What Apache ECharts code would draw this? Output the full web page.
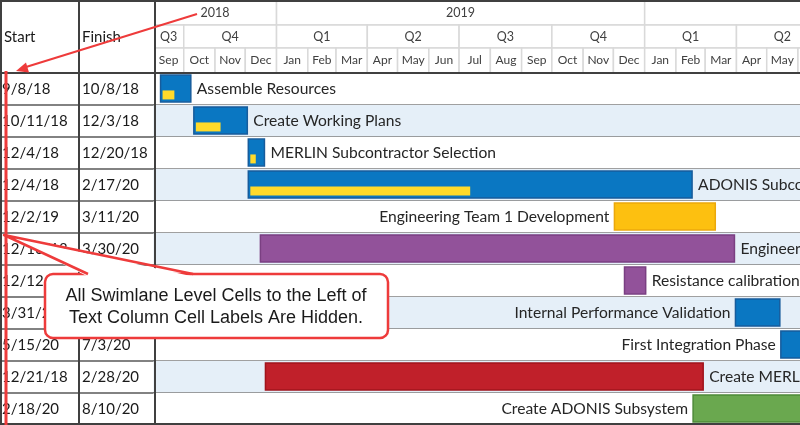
<!DOCTYPE html>
<html>
<head>
<meta charset="utf-8">
<style>html,body{margin:0;padding:0;background:#fff}#main{width:800px;height:425px}</style>
<script src="https://cdn.jsdelivr.net/npm/echarts/dist/echarts.min.js"></script>
</head>
<body>
<div id="main"></div>
<script>
// task table
var taskNames = ['Assemble Resources', 'Create Working Plans', 'MERLIN Subcontractor Selection',
  'ADONIS Subcontractor Selection', 'Engineering Team 1 Development', 'Engineering Team 2 Development',
  'Resistance calibration testing', 'Internal Performance Validation', 'First Integration Phase',
  'Create MERLIN Subsystem', 'Create ADONIS Subsystem'];
var startDates = ['9/8/18', '10/11/18', '12/4/18', '12/4/18', '12/2/19', '12/16/18',
  '12/12/19', '3/31/20', '5/15/20', '12/21/18', '2/18/20'];
var finishDates = ['10/8/18', '12/3/18', '12/20/18', '2/17/20', '3/11/20', '3/30/20',
  '1/2/20', '5/14/20', '7/3/20', '2/28/20', '8/10/20'];
var percentDone = [0.45, 0.5, 0.45, 0.5, 0, 0, 0, 0, 0, 0, 0];

// timescale header
var yearLabels = ['2018', '2019', '2020'];
var quarterLabels = ['Q3', 'Q4', 'Q1', 'Q2', 'Q3', 'Q4', 'Q1', 'Q2'];
var monthLabels = ['Sep', 'Oct', 'Nov', 'Dec', 'Jan', 'Feb', 'Mar', 'Apr', 'May', 'Jun',
  'Jul', 'Aug', 'Sep', 'Oct', 'Nov', 'Dec', 'Jan', 'Feb', 'Mar', 'Apr', 'May', 'Jun'];

// styles
var barColors = ['#0A77C2', '#0A77C2', '#0A77C2', '#0A77C2', '#FDC010', '#92529A',
  '#92529A', '#0A77C2', '#0A77C2', '#C0202A', '#6AA84F'];
var barBorders = ['#175C9C', '#175C9C', '#175C9C', '#175C9C', '#EBA80C', '#7A3F82',
  '#7A3F82', '#175C9C', '#175C9C', '#A0141C', '#4E8A38'];
var labelSide = ['right', 'right', 'right', 'right', 'left', 'right',
  'right', 'left', 'left', 'right', 'left'];

function parseDate(s) {
  var p = s.split('/');
  return Date.UTC(2000 + (+p[2]), +p[0] - 1, +p[1]);
}
var axisMin = Date.UTC(2018, 8, 1);
var axisMax = Date.UTC(2020, 5, 3);

var myChart = echarts.init(document.getElementById('main'));
var FONT = 'Lato, "Noto Sans", sans-serif';
var RED = '#EE3B3B';
var DARK = '#404040';

// header cells: [start, end, level, label]
var headerData = [];
yearLabels.forEach(function (y, i) {
  var s = i === 0 ? axisMin : Date.UTC(+y, 0, 1);
  headerData.push([s, Date.UTC(+y + 1, 0, 1), 0, y]);
});
quarterLabels.forEach(function (q, i) {
  var s = Date.UTC(2018, 6 + i * 3, 1);
  headerData.push([Math.max(s, axisMin), Date.UTC(2018, 9 + i * 3, 1), 1, q]);
});
monthLabels.forEach(function (m, i) {
  headerData.push([Date.UTC(2018, 8 + i, 1), Date.UTC(2018, 9 + i, 1), 2, m]);
});

var rowData = taskNames.map(function (n, i) { return [axisMin, i]; });
var barData = taskNames.map(function (n, i) {
  return [i, parseDate(startDates[i]), parseDate(finishDates[i]), percentDone[i]];
});

var levelTop = [1, 25, 48];
var levelBottom = [25, 48, 73];

function renderHeader(params, api) {
  var cs = params.coordSys;
  var x0 = api.coord([api.value(0), 0])[0];
  var x1 = api.coord([api.value(1), 0])[0];
  var lv = api.value(2);
  var top = levelTop[lv], bot = levelBottom[lv];
  var cx = (Math.max(x0, cs.x) + x1) / 2;
  return {
    type: 'group',
    children: [{
      type: 'rect',
      shape: { x: x0, y: top, width: x1 - x0, height: bot - top },
      style: { fill: '#fff', stroke: '#D9D9D9', lineWidth: 1.5 }
    }, {
      type: 'text',
      style: {
        text: headerData[params.dataIndex][3], x: cx, y: (top + bot) / 2,
        textAlign: 'center', verticalAlign: 'middle',
        font: (lv === 2 ? '12px ' : '12.5px ') + FONT, fill: DARK
      }
    }]
  };
}

function renderRow(params, api) {
  var cs = params.coordSys;
  var i = api.value(1);
  var cy = api.coord([api.value(0), i])[1];
  var h = api.size([0, 1])[1];
  var top = cy - h / 2, bot = cy + h / 2;
  return {
    type: 'group',
    children: [{
      type: 'rect',
      shape: { x: cs.x, y: top, width: cs.width, height: h },
      style: { fill: i % 2 === 1 ? '#E5EFF8' : '#fff' }
    }, {
      type: 'line',
      shape: { x1: cs.x, y1: bot, x2: cs.x + cs.width, y2: bot },
      style: { stroke: '#808080', lineWidth: 1.5 }
    }, {
      type: 'line',
      shape: { x1: 0, y1: bot, x2: 155, y2: bot },
      style: { stroke: '#595959', lineWidth: 1.5 }
    }, {
      type: 'text',
      style: { text: startDates[i], x: 2, y: cy, verticalAlign: 'middle', font: '15px ' + FONT, fill: '#1a1a1a' }
    }, {
      type: 'text',
      style: { text: finishDates[i], x: 82, y: cy, verticalAlign: 'middle', font: '15px ' + FONT, fill: '#1a1a1a' }
    }]
  };
}

function renderBar(params, api) {
  var i = api.value(0);
  var p0 = api.coord([api.value(1), i]);
  var p1 = api.coord([api.value(2), i]);
  var h = api.size([0, 1])[1];
  var bh = h * 0.84;
  var top = p0[1] - bh / 2 - 0.5;
  var w = p1[0] - p0[0];
  var children = [{
    type: 'rect',
    shape: { x: p0[0], y: top, width: w, height: bh },
    style: { fill: barColors[i], stroke: barBorders[i], lineWidth: 1.5 }
  }];
  var pd = api.value(3);
  if (pd > 0) {
    children.push({
      type: 'rect',
      shape: { x: p0[0] + 2, y: top + bh - 11.5, width: (w - 4) * pd, height: 9 },
      style: { fill: '#FFDA2A' }
    });
  }
  var right = labelSide[i] === 'right';
  children.push({
    type: 'text',
    style: {
      text: taskNames[i], x: right ? p1[0] + 6 : p0[0] - 5, y: p0[1],
      textAlign: right ? 'left' : 'right', verticalAlign: 'middle',
      font: '15.6px ' + FONT, fill: '#262626'
    }
  });
  return { type: 'group', children: children };
}

var option = {
  animation: false,
  backgroundColor: '#fff',
  grid: [
    { left: 153.5, right: 0, top: 73, height: 352 },
    { left: 153.5, right: 0, top: 0, height: 73 }
  ],
  xAxis: [
    { type: 'time', gridIndex: 0, min: axisMin, max: axisMax, show: false },
    { type: 'time', gridIndex: 1, min: axisMin, max: axisMax, show: false }
  ],
  yAxis: [
    { type: 'category', gridIndex: 0, inverse: true, data: taskNames.map(function (n, i) { return i; }), show: false },
    { type: 'value', gridIndex: 1, min: 0, max: 1, show: false }
  ],
  series: [{
    type: 'custom', xAxisIndex: 1, yAxisIndex: 1, data: headerData,
    encode: { x: [0, 1] }, renderItem: renderHeader, clip: true, z: 1
  }, {
    type: 'custom', xAxisIndex: 0, yAxisIndex: 0, data: rowData,
    encode: { x: 0, y: 1 }, renderItem: renderRow, z: 1
  }, {
    type: 'custom', xAxisIndex: 0, yAxisIndex: 0, data: barData,
    encode: { x: [1, 2], y: 0 }, renderItem: renderBar, z: 3
  }],
  graphic: [
    { type: 'rect', z: 40, shape: { x: 0, y: 0, width: 155, height: 73 }, style: { fill: '#fff' } },
    { type: 'text', z: 50, style: { text: 'Start', x: 4, y: 37, verticalAlign: 'middle', font: '15px ' + FONT, fill: '#1a1a1a' } },
    { type: 'text', z: 50, style: { text: 'Finish', x: 82, y: 37, verticalAlign: 'middle', font: '15px ' + FONT, fill: '#1a1a1a' } },
    { type: 'line', z: 50, shape: { x1: 0, y1: 1, x2: 800, y2: 1 }, style: { stroke: DARK, lineWidth: 2 } },
    { type: 'line', z: 50, shape: { x1: 0, y1: 73, x2: 800, y2: 73 }, style: { stroke: DARK, lineWidth: 2 } },
    { type: 'line', z: 50, shape: { x1: 0, y1: 424, x2: 800, y2: 424 }, style: { stroke: DARK, lineWidth: 2 } },
    { type: 'line', z: 50, shape: { x1: 1, y1: 0, x2: 1, y2: 425 }, style: { stroke: DARK, lineWidth: 2 } },
    { type: 'line', z: 50, shape: { x1: 79, y1: 0, x2: 79, y2: 425 }, style: { stroke: DARK, lineWidth: 2 } },
    { type: 'line', z: 50, shape: { x1: 155, y1: 0, x2: 155, y2: 425 }, style: { stroke: DARK, lineWidth: 2 } },
    // annotation
    { type: 'line', z: 100, shape: { x1: 197, y1: 14, x2: 26, y2: 67 }, style: { stroke: RED, lineWidth: 2 } },
    { type: 'polygon', z: 100, shape: { points: [[16, 71], [29, 72.5], [26, 62.5]] }, style: { fill: RED } },
    { type: 'line', z: 100, shape: { x1: 6, y1: 71, x2: 6, y2: 425 }, style: { stroke: RED, lineWidth: 3 } },
    { type: 'rect', z: 100, shape: { x: 45, y: 274, width: 343, height: 64, r: 8 }, style: { fill: '#fff', stroke: RED, lineWidth: 2.5 } },
    { type: 'polygon', z: 101, shape: { points: [[88, 276.5], [4, 235], [193, 276.5]] }, style: { fill: '#fff' } },
    { type: 'polyline', z: 102, shape: { points: [[88, 274], [4, 235], [193, 274]] }, style: { stroke: RED, lineWidth: 2.5, lineJoin: 'round' } },
    { type: 'text', z: 103, style: { text: 'All Swimlane Level Cells to the Left of', x: 216, y: 296, textAlign: 'center', verticalAlign: 'middle', font: '18px "Liberation Sans", Arial, sans-serif', fill: '#1a1a1a' } },
    { type: 'text', z: 103, style: { text: 'Text Column Cell Labels Are Hidden.', x: 216, y: 318, textAlign: 'center', verticalAlign: 'middle', font: '18px "Liberation Sans", Arial, sans-serif', fill: '#1a1a1a' } }
  ]
};
myChart.setOption(option);
</script>
</body>
</html>
